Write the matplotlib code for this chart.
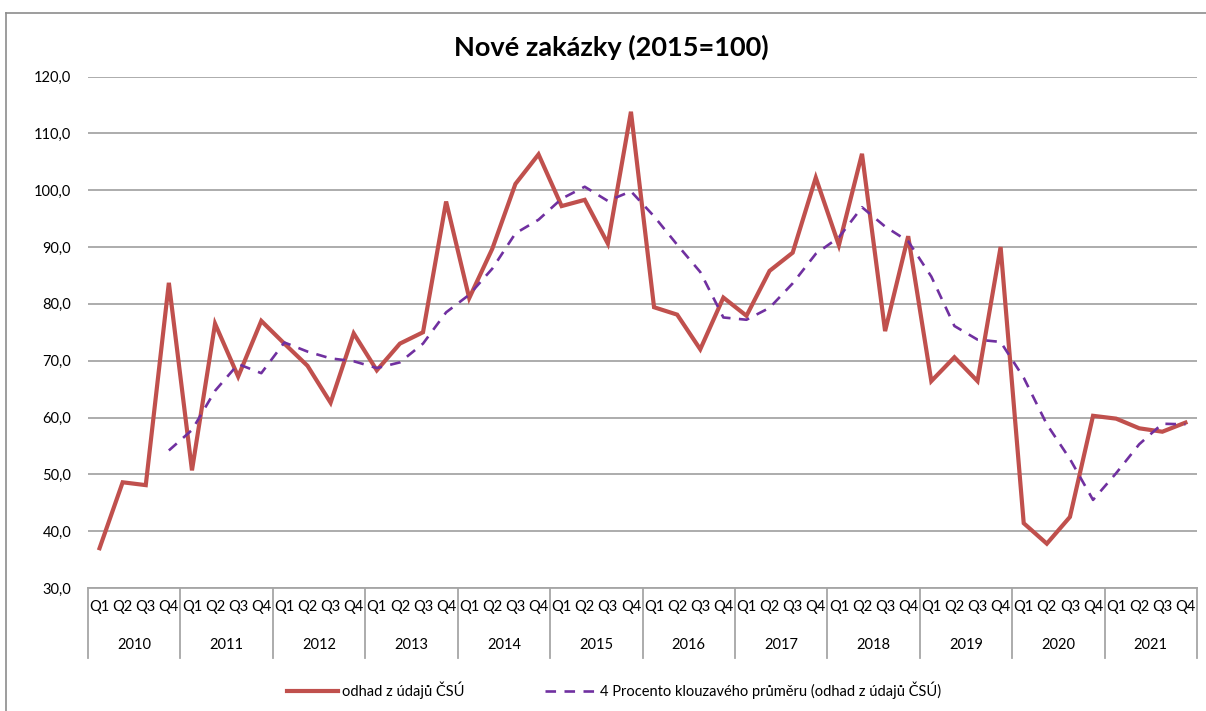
import numpy as np
import matplotlib
matplotlib.use("Agg")
import matplotlib.pyplot as plt
from matplotlib.lines import Line2D

years = ["2010", "2011", "2012", "2013", "2014", "2015", "2016",
         "2017", "2018", "2019", "2020", "2021"]
quarters = ["Q1", "Q2", "Q3", "Q4"]

odhad = [37.0, 48.6, 48.1, 83.7,
         50.7, 76.5, 67.2, 77.0,
         73.0, 69.1, 62.6, 74.8,
         68.3, 73.0, 75.0, 98.0,
         81.0, 89.7, 101.1, 106.3,
         97.2, 98.3, 90.6, 113.8,
         79.4, 78.1, 72.0, 81.1,
         77.9, 85.8, 89.0, 102.2,
         90.3, 106.4, 75.2, 91.9,
         66.4, 70.6, 66.4, 90.0,
         41.4, 37.8, 42.5, 60.3,
         59.8, 58.1, 57.5, 59.1]

klouzavy = [np.nan, np.nan, np.nan, 54.2,
            57.8, 64.7, 69.4, 67.8,
            73.2, 71.6, 70.4, 69.9,
            68.7, 69.7, 73.0, 78.5,
            81.6, 86.2, 92.4, 94.8,
            98.5, 100.6, 98.1, 99.8,
            95.4, 90.4, 85.6, 77.6,
            77.2, 79.3, 83.6, 88.8,
            91.7, 97.0, 93.6, 91.0,
            84.8, 76.1, 73.7, 73.3,
            67.0, 58.8, 52.7, 45.5,
            50.2, 55.3, 58.9, 58.8]

title = "Nové zakázky (2015=100)"
label_main = "odhad z údajů ČSÚ"
label_ma = "4 Procento klouzavého průměru (odhad z údajů ČSÚ)"

plt.rcParams['font.family'] = ['Lato', 'DejaVu Sans']

W, H = 1206, 711
fig = plt.figure(figsize=(W / 100, H / 100), dpi=100)

# chart area border (top and left visible)
fig.add_artist(Line2D([6 / W, 1.0], [1 - 13 / H, 1 - 13 / H], transform=fig.transFigure,
                      color="#8c8c8c", lw=1.2))
fig.add_artist(Line2D([6 / W, 6 / W], [0, 1 - 13 / H], transform=fig.transFigure,
                      color="#8c8c8c", lw=1.2))

left, right = 88 / W, 1197 / W
bottom, top = 1 - 588 / H, 1 - 76.5 / H
ax = fig.add_axes([left, bottom, right - left, top - bottom])

x = np.arange(len(odhad))
ax.plot(x, odhad, color="#C0504D", lw=3.0, solid_joinstyle="miter", zorder=3,
        label=label_main)
ax.plot(x, klouzavy, color="#7030A0", lw=1.9, ls=(0, (4, 3.2)), zorder=4,
        label=label_ma)

ax.set_xlim(-0.5, len(odhad) - 0.5)
ax.set_ylim(30, 120)
ax.set_yticks(np.arange(30, 121, 10))
ax.set_yticklabels([f"{v:.1f}".replace(".", ",") for v in np.arange(30, 121, 10)],
                   fontsize=10.5)
ax.tick_params(axis="y", length=0, pad=12)
ax.set_xticks([])
ax.grid(axis="y", color="#A6A6A6", lw=1.3)
ax.set_axisbelow(True)
for s in ["left", "right", "top"]:
    ax.spines[s].set_visible(False)
ax.spines["bottom"].set_color("#A6A6A6")
ax.spines["bottom"].set_linewidth(1.3)

# category axis (quarters and years)
trans = ax.get_xaxis_transform()
ph = 588 - 76.5
yq = -(607 - 588) / ph
yy = -(645 - 588) / ph
ybot = -(658 - 588) / ph
for k in range(len(years) + 1):
    ax.add_line(Line2D([-0.5 + 4 * k, -0.5 + 4 * k], [0, ybot], transform=trans,
                       color="#A6A6A6", lw=1.3, clip_on=False))
for i in range(len(odhad)):
    ax.text(i, yq, quarters[i % 4], transform=trans, ha="center", va="center",
            fontsize=10.5, color="#000000")
for k, yr in enumerate(years):
    ax.text(4 * k + 1.5, yy, yr, transform=trans, ha="center", va="center",
            fontsize=10.5, color="#000000")

fig.text(611 / W, 1 - 47 / H, title, ha="center", va="center", fontsize=19.5,
         fontweight="bold", color="#000000")

fig.legend(loc="center", bbox_to_anchor=(614 / W, 1 - 690 / H), ncol=2, frameon=False,
           fontsize=10.5, handlelength=3.5, columnspacing=5.5, handletextpad=0.3)

fig.savefig("out.png", dpi=100)
